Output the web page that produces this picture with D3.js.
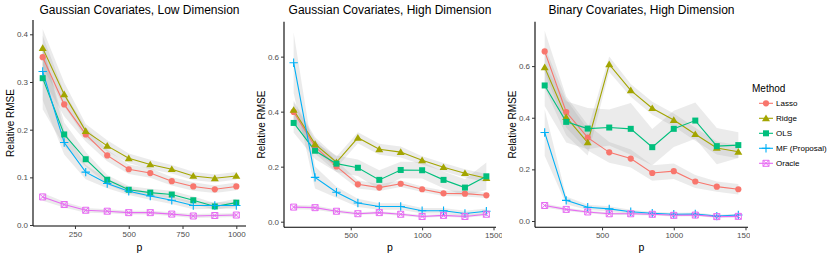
<!DOCTYPE html>
<html><head><meta charset="utf-8">
<script src="https://cdn.jsdelivr.net/npm/d3@7"></script>
<style>body{margin:0;background:#fff}svg{display:block;font-family:"Liberation Sans",Arial,sans-serif}</style>
</head><body><svg id="c" width="830" height="256"></svg>
<script>
const methods = ["Lasso","Ridge","OLS","MF (Proposal)","Oracle"];
const colors = ["#F8766D","#A3A500","#00BF7D","#00B0F6","#E76BF3"];
const titles = ["Gaussian Covariates, Low Dimension","Gaussian Covariates, High Dimension","Binary Covariates, High Dimension"];

const pLow = [100,200,300,400,500,600,700,800,900,1000];
const pHigh = [100,250,400,550,700,850,1000,1150,1300,1450];

// Panel 1: Gaussian, low dimension
const gl_lasso = [0.352,0.253,0.190,0.146,0.117,0.109,0.092,0.081,0.075,0.081];
const gl_ridge = [0.371,0.274,0.197,0.166,0.140,0.127,0.117,0.103,0.098,0.103];
const gl_ols   = [0.308,0.190,0.138,0.095,0.074,0.068,0.064,0.052,0.039,0.047];
const gl_mf    = [0.322,0.173,0.111,0.087,0.071,0.061,0.052,0.041,0.041,0.041];
const gl_orac  = [0.059,0.043,0.031,0.029,0.026,0.026,0.023,0.019,0.020,0.021];
const gl_lasso_band = [0.045,0.025,0.015,0.012,0.010,0.010,0.009,0.009,0.008,0.008];
const gl_ridge_band = [0.040,0.025,0.015,0.012,0.010,0.010,0.009,0.009,0.008,0.008];
const gl_ols_band   = [0.065,0.025,0.015,0.010,0.008,0.008,0.008,0.008,0.007,0.008];
const gl_mf_band    = [0.060,0.025,0.015,0.010,0.008,0.008,0.008,0.008,0.007,0.007];
const gl_orac_band  = [0.008,0.006,0.005,0.004,0.004,0.004,0.004,0.004,0.004,0.004];

// Panel 2: Gaussian, high dimension
const gh_lasso = [0.399,0.273,0.201,0.136,0.124,0.138,0.118,0.103,0.102,0.096];
const gh_ridge = [0.406,0.282,0.216,0.305,0.263,0.253,0.223,0.198,0.176,0.158];
const gh_ols   = [0.359,0.258,0.211,0.196,0.152,0.188,0.187,0.152,0.124,0.165];
const gh_mf    = [0.578,0.161,0.107,0.068,0.055,0.055,0.040,0.040,0.030,0.038];
const gh_orac  = [0.053,0.051,0.038,0.029,0.033,0.027,0.019,0.023,0.019,0.027];
const gh_lasso_band = [0.035,0.025,0.020,0.015,0.012,0.012,0.010,0.010,0.010,0.010];
const gh_ridge_band = [0.035,0.025,0.020,0.020,0.020,0.020,0.015,0.015,0.015,0.015];
const gh_ols_band   = [0.035,0.030,0.030,0.030,0.035,0.030,0.030,0.030,0.030,0.050];
const gh_mf_band    = [0.110,0.040,0.020,0.015,0.012,0.012,0.010,0.010,0.010,0.010];
const gh_orac_band  = [0.008,0.008,0.006,0.005,0.005,0.005,0.005,0.005,0.005,0.005];

// Panel 3: Binary, high dimension
const bh_lasso = [0.657,0.422,0.323,0.266,0.242,0.186,0.193,0.153,0.133,0.123];
const bh_ridge = [0.595,0.402,0.304,0.607,0.506,0.437,0.391,0.336,0.283,0.268];
const bh_ols   = [0.525,0.384,0.358,0.362,0.357,0.286,0.357,0.389,0.290,0.294];
const bh_mf    = [0.343,0.080,0.053,0.047,0.036,0.030,0.026,0.027,0.019,0.023];
const bh_orac  = [0.060,0.045,0.035,0.028,0.028,0.026,0.022,0.023,0.017,0.018];
const bh_lasso_band = [0.080,0.060,0.050,0.040,0.035,0.030,0.030,0.025,0.020,0.020];
const bh_ridge_band = [0.080,0.070,0.050,0.030,0.025,0.025,0.025,0.025,0.025,0.025];
const bh_ols_band   = [0.080,0.080,0.080,0.070,0.100,0.070,0.070,0.070,0.070,0.050];
const bh_mf_band    = [0.090,0.015,0.010,0.010,0.008,0.006,0.006,0.006,0.005,0.005];
const bh_orac_band  = [0.008,0.006,0.005,0.005,0.005,0.005,0.005,0.005,0.004,0.004];

const yTicksLow = [0,0.1,0.2,0.3,0.4];
const yTicksHigh = [0,0.2,0.4,0.6];
const xTicksLow = [250,500,750,1000];
const xTicksHigh = [500,1000,1500];

const panels = [
  {title:titles[0], p:pLow, means:[gl_lasso,gl_ridge,gl_ols,gl_mf,gl_orac],
   bands:[gl_lasso_band,gl_ridge_band,gl_ols_band,gl_mf_band,gl_orac_band],
   xt:xTicksLow, yt:yTicksLow, clip:[0,251], px:[33,246], py:[226,20], xd:[55,1045], yd:[-0.002,0.43]},
  {title:titles[1], p:pHigh, means:[gh_lasso,gh_ridge,gh_ols,gh_mf,gh_orac],
   bands:[gh_lasso_band,gh_ridge_band,gh_ols_band,gh_mf_band,gh_orac_band],
   xt:xTicksHigh, yt:yTicksHigh, clip:[251,502], px:[284,496], py:[227.3,21.7], xd:[32.5,1517.5], yd:[-0.0204,0.727]},
  {title:titles[2], p:pHigh, means:[bh_lasso,bh_ridge,bh_ols,bh_mf,bh_orac],
   bands:[bh_lasso_band,bh_ridge_band,bh_ols_band,bh_mf_band,bh_orac_band],
   xt:xTicksHigh, yt:yTicksHigh, clip:[502,750], px:[535,748], py:[227.3,21.7], xd:[32.5,1517.5], yd:[-0.0244,0.772]}
];

const svg = d3.select("#c");
const defs = svg.append("defs");

function drawMarker(g, k, x, y, col){
  if(k===0){ g.append("circle").attr("cx",x).attr("cy",y).attr("r",3.1).attr("fill",col); }
  else if(k===1){ const s=3.8; g.append("path").attr("d",`M${x},${y-s}L${x+s*1.05},${y+s*0.75}L${x-s*1.05},${y+s*0.75}Z`).attr("fill",col); }
  else if(k===2){ g.append("rect").attr("x",x-3).attr("y",y-3).attr("width",6).attr("height",6).attr("fill",col); }
  else if(k===3){ g.append("path").attr("d",`M${x-4.2},${y}H${x+4.2}M${x},${y-4.2}V${y+4.2}`).attr("stroke",col).attr("stroke-width",1.1).attr("fill","none"); }
  else { g.append("path").attr("d",`M${x-3},${y-3}h6v6h-6ZM${x-3},${y-3}L${x+3},${y+3}M${x+3},${y-3}L${x-3},${y+3}`).attr("stroke",col).attr("stroke-width",1).attr("fill","none"); }
}

panels.forEach((P,i)=>{
  defs.append("clipPath").attr("id","clip"+i).append("rect")
    .attr("x",P.clip[0]).attr("y",0).attr("width",P.clip[1]-P.clip[0]).attr("height",256);
  const g = svg.append("g").attr("clip-path",`url(#clip${i})`);
  g.append("rect").attr("x",P.clip[0]).attr("y",0).attr("width",P.clip[1]-P.clip[0]).attr("height",256).attr("fill","#fff");
  const x = d3.scaleLinear().domain(P.xd).range(P.px);
  const y = d3.scaleLinear().domain(P.yd).range(P.py);

  // ribbons
  const area = d3.area().x(d=>x(d.p)).y0(d=>y(d.lo)).y1(d=>y(d.hi));
  P.means.forEach((m,k)=>{
    const data = P.p.map((p,j)=>({p, lo:m[j]-P.bands[k][j], hi:m[j]+P.bands[k][j]}));
    g.append("path").attr("d",area(data)).attr("fill","#999").attr("fill-opacity",0.2);
  });
  // lines
  const line = d3.line().x(d=>x(d[0])).y(d=>y(d[1]));
  P.means.forEach((m,k)=>{
    g.append("path").attr("d",line(P.p.map((p,j)=>[p,m[j]]))).attr("fill","none")
      .attr("stroke",colors[k]).attr("stroke-width",1.1);
  });
  // points
  P.means.forEach((m,k)=>{
    P.p.forEach((p,j)=>drawMarker(g,k,x(p),y(m[j]),colors[k]));
  });

  // axes
  const xa = g.append("g").attr("transform",`translate(0,${P.py[0]})`)
    .call(d3.axisBottom(x).tickValues(P.xt).tickSize(3).tickPadding(2).tickFormat(d3.format("d")));
  const ya = g.append("g").attr("transform",`translate(${P.px[0]},0)`)
    .call(d3.axisLeft(y).tickValues(P.yt).tickSize(3).tickPadding(2).tickFormat(d3.format(".1f")));
  [xa,ya].forEach(a=>{
    a.select(".domain").attr("stroke","#000").attr("stroke-width",1.1);
    a.selectAll(".tick line").attr("stroke","#333");
    a.selectAll(".tick text").attr("fill","#4D4D4D").style("font-size","8px").style("font-family","Liberation Sans, Arial, sans-serif");
  });
  xa.select(".domain").attr("d",`M${P.px[0]},0H${P.px[1]}`);
  ya.select(".domain").attr("d",`M0,${P.py[0]}V${P.py[1]}`);

  const cx = (P.px[0]+P.px[1])/2;
  g.append("text").attr("x",cx).attr("y",14).attr("text-anchor","middle")
    .style("font-size","12px").attr("fill","#000").text(P.title);
  g.append("text").attr("x",cx).attr("y",251).attr("text-anchor","middle")
    .style("font-size","10.5px").attr("fill","#000").text("p");
  const yc = (P.py[0]+P.py[1])/2;
  g.append("text").attr("transform",`translate(${P.px[0]-19},${yc}) rotate(-90)`).attr("text-anchor","middle")
    .style("font-size","10px").attr("fill","#000").text("Relative RMSE");
});

// legend
const lg = svg.append("g");
lg.append("text").attr("x",752).attr("y",92).style("font-size","10px").attr("fill","#000").text("Method");
methods.forEach((m,k)=>{
  const yy = 103.3 + k*15;
  lg.append("line").attr("x1",759).attr("x2",773).attr("y1",yy).attr("y2",yy).attr("stroke",colors[k]).attr("stroke-width",1.1);
  drawMarker(lg,k,766,yy,colors[k]);
  lg.append("text").attr("x",776).attr("y",yy+3).style("font-size","8px").attr("fill","#000").text(m);
});
</script></body></html>
